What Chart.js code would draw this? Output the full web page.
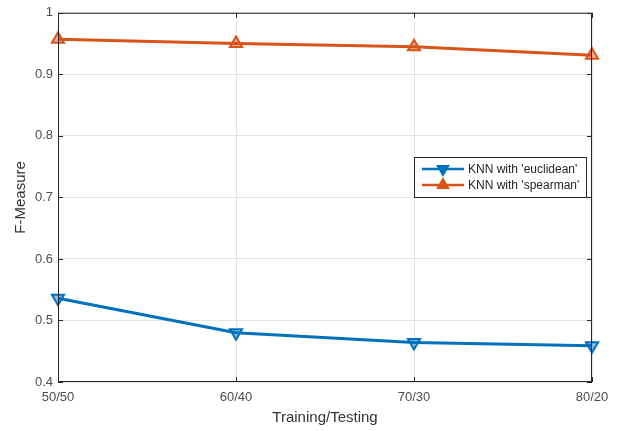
<!DOCTYPE html>
<html>
<head>
<meta charset="utf-8">
<script src="https://cdn.jsdelivr.net/npm/chart.js@4"></script>
<style>
  html, body { margin: 0; padding: 0; background: #fff; }
  #wrap { width: 618px; height: 431px; }
</style>
</head>
<body>
<div id="wrap"><canvas id="fmChart"></canvas></div>
<script>
const splits = ["50/50", "60/40", "70/30", "80/20"];
const euclidean = [0.536, 0.480, 0.464, 0.459];
const spearman = [0.957, 0.950, 0.945, 0.931];
const yTicks = [0.4, 0.5, 0.6, 0.7, 0.8, 0.9, 1];

const BLUE = "#0072BD";
const ORANGE = "#D95319";
const FONT = "'Liberation Sans', Arial, sans-serif";

// MATLAB-like box, inward ticks and legend
const matlabAxes = {
  id: "matlabAxes",
  afterDatasetsDraw(chart) {
    const { ctx, chartArea: a, scales } = chart;
    ctx.save();
    ctx.strokeStyle = "#262626";
    ctx.lineWidth = 1;
    ctx.strokeRect(a.left + 0.5, a.top + 0.5, a.right - a.left - 1, a.bottom - a.top - 1);
    ctx.beginPath();
    scales.y.ticks.forEach((t, i) => {
      const y = Math.round(scales.y.getPixelForTick(i)) + 0.5;
      ctx.moveTo(a.left, y); ctx.lineTo(a.left + 5, y);
      ctx.moveTo(a.right, y); ctx.lineTo(a.right - 5, y);
    });
    scales.x.ticks.forEach((t, i) => {
      const x = Math.round(scales.x.getPixelForTick(i)) + 0.5;
      ctx.moveTo(x, a.bottom); ctx.lineTo(x, a.bottom - 5);
      ctx.moveTo(x, a.top); ctx.lineTo(x, a.top + 5);
    });
    ctx.stroke();

    // legend
    const lx = 414, ly = 157, lw = 172, lh = 40;
    ctx.fillStyle = "#fff";
    ctx.fillRect(lx, ly, lw, lh);
    ctx.strokeStyle = "#262626";
    ctx.strokeRect(lx + 0.5, ly + 0.5, lw, lh);
    const items = [
      { label: "KNN with 'euclidean'", color: BLUE, rot: 180 },
      { label: "KNN with 'spearman'", color: ORANGE, rot: 0 }
    ];
    items.forEach((it, i) => {
      const y = ly + 12 + i * 16;
      ctx.strokeStyle = it.color;
      ctx.lineWidth = 2.5;
      ctx.beginPath();
      ctx.moveTo(lx + 8, y); ctx.lineTo(lx + 50, y);
      ctx.stroke();
      Chart.helpers.drawPoint(ctx, {
        pointStyle: "triangle", rotation: it.rot, radius: 5.5, borderWidth: 2
      }, lx + 29, y);
      ctx.fillStyle = it.color;
      ctx.fill();
      ctx.fillStyle = "#262626";
      ctx.font = "12px " + FONT;
      ctx.textBaseline = "middle";
      ctx.fillText(it.label, lx + 54, y + 1);
    });
    ctx.restore();
  }
};

new Chart(document.getElementById("fmChart"), {
  type: "line",
  data: {
    labels: splits,
    datasets: [
      {
        label: "KNN with 'euclidean'",
        data: euclidean,
        borderColor: BLUE,
        backgroundColor: "rgba(0,114,189,0.45)",
        borderWidth: 3,
        pointStyle: "triangle",
        rotation: 180,
        pointRadius: 7,
        pointBorderWidth: 2,
        clip: false
      },
      {
        label: "KNN with 'spearman'",
        data: spearman,
        borderColor: ORANGE,
        backgroundColor: "rgba(217,83,25,0.45)",
        borderWidth: 3,
        pointStyle: "triangle",
        pointRadius: 7,
        pointBorderWidth: 2,
        clip: false
      }
    ]
  },
  options: {
    responsive: true,
    maintainAspectRatio: false,
    animation: false,
    layout: { padding: { top: 12, right: 26, left: 0, bottom: 0 } },
    plugins: {
      legend: { display: false },
      tooltip: { enabled: false }
    },
    scales: {
      x: {
        offset: false,
        grid: { color: "#e3e3e3", drawTicks: false },
        border: { display: false },
        ticks: {
          color: "#4d4d4d",
          font: { family: FONT, size: 13 },
          padding: 8,
          maxRotation: 0
        },
        title: {
          display: true,
          text: "Training/Testing",
          color: "#333",
          font: { family: FONT, size: 15 },
          padding: { top: 2 }
        },
        afterFit(scale) { scale.height = 49; }
      },
      y: {
        min: 0.4,
        max: 1,
        afterBuildTicks(scale) { scale.ticks = yTicks.map(v => ({ value: v })); },
        grid: { color: "#e3e3e3", drawTicks: false },
        border: { display: false },
        ticks: {
          color: "#4d4d4d",
          font: { family: FONT, size: 13 },
          padding: 5,
          callback: v => String(Math.round(v * 10) / 10)
        },
        title: {
          display: true,
          text: "F-Measure",
          color: "#333",
          font: { family: FONT, size: 15 },
          padding: { top: 12, bottom: 0 }
        },
        afterFit(scale) { scale.width = 58; }
      }
    }
  },
  plugins: [matlabAxes]
});
</script>
</body>
</html>
